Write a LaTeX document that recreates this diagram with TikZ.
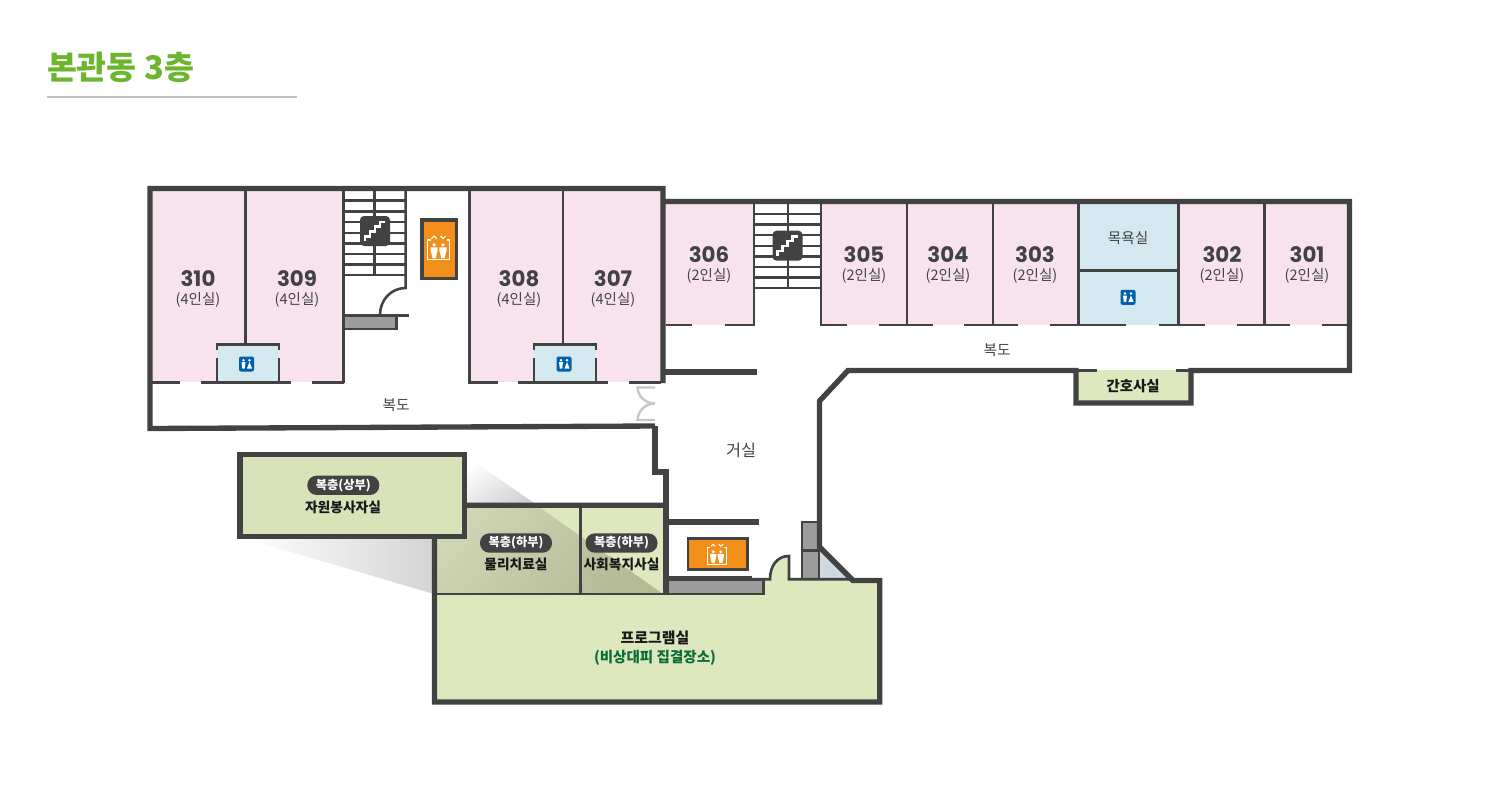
\documentclass[tikz,border=0pt]{standalone}
\usepackage{fontspec}
\setmainfont{Noto Sans CJK KR}
\newfontfamily\numfont{Poppins}
\definecolor{wallc}{HTML}{424242}
\definecolor{pinkc}{HTML}{F8E2EE}
\definecolor{bathc}{HTML}{D3E9EF}
\definecolor{greenc}{HTML}{DDE8BE}
\definecolor{grayc}{HTML}{9C9C9C}
\definecolor{liftc}{HTML}{F28F1B}
\definecolor{wcc}{HTML}{0060AA}
\definecolor{titlec}{HTML}{6CB52D}
\definecolor{voidc}{HTML}{CFD8DD}
\definecolor{shadec}{HTML}{B4B996}
\definecolor{shadetop}{HTML}{CFD6B4}
\definecolor{assemblyc}{HTML}{0B6B3A}
\tikzset{
  pics/wcicon/.style = {code = {
    \fill[wcc, rounded corners = 1.5] (-7.5,-7.5) rectangle (7.5,7.5);
    \fill[white] (-3,-3.8) circle (1.3) (3,-3.8) circle (1.3);
    \fill[white] (-5,-1.8) -- (-1,-1.8) -- (-1.8,4.5) -- (-4.2,4.5) -- cycle;
    \fill[white] (3,-2) -- (5.6,4.5) -- (.4,4.5) -- cycle;
  }},
  pics/stairicon/.style = {code = {
    \fill[wallc, rounded corners = 3] (-15,-15) rectangle (15,15);
    \draw[white, line width = 1.9pt] (-10,10) -- (-10,5.5) -- (-5,5.5) -- (-5,.5) -- (0,.5) -- (0,-4.5) -- (5,-4.5) -- (5,-9) -- (10,-9);
  }},
  pics/lifticon/.style = {code = {
    \draw[white, line width = .8pt] (-8,-8) -- (-11,-8) -- (-11,11.5) -- (11,11.5) -- (11,-8) -- (8,-8);
    \draw[white, line width = .8pt] (-7,-9.5) -- (-4.5,-12) -- (-2,-9.5) (2,-12) -- (4.5,-9.5) -- (7,-12);
    \foreach \sx in {-4.4,4.4} {
      \fill[white] (\sx,-3.2) circle (1.9);
      \fill[white] (\sx-3.6,-.6) -- (\sx+3.6,-.6) -- (\sx+3.6,2) -- (\sx+1.6,10) -- (\sx-1.6,10) -- (\sx-3.6,2) -- cycle;
    }
  }}
}
\begin{document}
\begin{tikzpicture}[
    x = .75pt, y = -.75pt,
    every node/.style = {inner sep = 0pt, align = center},
    wall/.style = {draw = wallc, line width = 4pt, miter limit = 10},
    thinwall/.style = {draw = wallc, line width = 2pt},
    tread/.style = {draw = wallc, line width = 1.9pt},
    roomno/.style = {text = wallc, font = \fontsize{16pt}{16pt}\numfont\bfseries},
    capt/.style = {text = wallc, font = \fontsize{10.9pt}{11pt}\selectfont},
    plain/.style = {text = wallc, font = \fontsize{11pt}{11pt}\selectfont},
    dark/.style = {text = black!90, font = \fontsize{10.3pt}{11pt}\selectfont\bfseries},
    pill/.style = {fill = wallc, text = white, rounded corners = 7pt, minimum height = 14.5pt,
      minimum width = 54pt, font = \fontsize{9.2pt}{10pt}\selectfont\bfseries}
  ]
  \useasboundingbox (0,0) rectangle (1500,800);

  % title
  \node[text = titlec, font = \fontsize{24.4pt}{24pt}\selectfont\bfseries] (title) at (120.5,67) {본관동 3층};
  \draw[black!25, line width = .8pt] (47,97) -- (297,97);

  % room fills
  \fill[pinkc] (150,188) rectangle (343.7,382);
  \fill[pinkc] (469.5,188) rectangle (663,382);
  \fill[pinkc] (663,201) rectangle (754,325);
  \fill[pinkc] (821,201) rectangle (1078.5,325);
  \fill[pinkc] (1178.7,201) rectangle (1349,325);
  \fill[bathc] (1078.5,201) rectangle (1178.7,325);
  \fill[bathc] (217,344) rectangle (279,382);
  \fill[bathc] (534,344) rectangle (596,382);
  \fill[greenc] (434,505) rectangle (666,594);
  \fill[greenc] (1076,370) rectangle (1191,403);
  \fill[greenc] (434,594) -- (763,594) -- (763,579) -- (770,579) .. controls (770,566) and (777,556) .. (789,556) -- (789,579) -- (879,579) -- (879,702) -- (434,702) -- cycle;
  \fill[voidc] (819.5,548) -- (847,579) -- (819.5,579) -- cycle;

  % shadow of the upper floor
  \begin{scope}
    \clip (466,456) -- (537,505) -- (466,505) -- cycle;
    \shade[top color = white, bottom color = black!18, shading angle = 35] (466,456) rectangle (537,505);
  \end{scope}
  \begin{scope}
    \clip (240,537) -- (434,594) -- (434,537) -- cycle;
    \shade[left color = white, right color = black!17] (240,537) rectangle (434,594);
  \end{scope}
  \begin{scope}
    \clip (466,456) -- (666,596) -- (434,596) -- (400,480) -- cycle;
    \shade[top color = shadetop, bottom color = shadec, shading angle = 50] (434,505) rectangle (666,594);
  \end{scope}

  % stairs
  \foreach \sy in {200.7,211.4,222.1,232.8,243.5,254.2,264.6,275} {
    \draw[tread] (344,\sy) -- (405.7,\sy);
  }
  \foreach \sy in {214,224.6,235.2,245.8,256.4,267,277.5,288} {
    \draw[tread] (755,\sy) -- (821,\sy);
  }
  \draw[tread] (374.3,190) -- (374.3,275);
  \draw[tread] (405.7,190) -- (405.7,288) .. controls (391,288) and (380,300) .. (380,315);
  \draw[tread] (788,203) -- (788,288);
  \pic at (375,231) {stairicon};
  \pic at (787.5,245.7) {stairicon};

  % gray shafts
  \draw[thinwall, fill = grayc] (344,315.5) rectangle (396.5,329);
  \draw[thinwall] (396.5,315.5) -- (409,315.5);
  \draw[thinwall, fill = grayc] (667,580) rectangle (763.3,594);
  \draw[thinwall, fill = grayc] (802,522) rectangle (819,550.5);
  \draw[thinwall, fill = grayc] (802,550.5) rectangle (819,579);

  % lifts
  \draw[draw = wallc, line width = 2.4pt, fill = liftc] (422,220) rectangle (456.7,278.5);
  \pic at (438.5,248) {lifticon};
  \draw[draw = wallc, line width = 2.2pt, fill = liftc] (688,538.3) rectangle (747.5,569.5);
  \pic[scale = .86] at (717,554.5) {lifticon};

  % inner walls, left wing
  \draw[thinwall] (245.3,190) -- (245.3,344);
  \draw[thinwall] (343.7,190) -- (343.7,382.5) (152,382.5) -- (180,382.5) (201,382.5) -- (290.7,382.5) (311.7,382.5) -- (343.7,382.5);
  \draw[thinwall] (217,358) -- (217,382.5) (279,358) -- (279,382.5) (217,350) -- (217,344.5) -- (279,344.5) -- (279,350);
  \draw[thinwall] (469.5,190) -- (469.5,382.5) -- (497.7,382.5) (518.3,382.5) -- (608,382.5) (629,382.5) -- (661,382.5);
  \draw[thinwall] (563,190) -- (563,344);
  \draw[thinwall] (534,358) -- (534,382.5) (596,358) -- (596,382.5) (534,350) -- (534,344.5) -- (596,344.5) -- (596,350);

  % inner walls, right wing
  \draw[thinwall] (754,203) -- (754,325) (821,203) -- (821,325) (907,203) -- (907,325) (993,203) -- (993,325) (1078.5,203) -- (1078.5,325) (1178.7,203) -- (1178.7,325) (1264.5,203) -- (1264.5,325);
  \draw[thinwall] (1078.5,270.7) -- (1178.7,270.7);
  \draw[thinwall] (666,325) -- (692,325) (725,325) -- (755,325) (820,325) -- (847,325) (878.7,325) -- (932.7,325) (964,325) -- (1018.3,325) (1050,325) -- (1126,325) (1159.3,325) -- (1205,325) (1236.7,325) -- (1290.3,325) (1322,325) -- (1347,325);
  \draw[thinwall] (1076,370.5) -- (1096.7,370.5) (1175.7,370.5) -- (1191,370.5);

  % lower block inner walls
  \draw[thinwall] (580.7,505) -- (580.7,594) (434,594) -- (763.3,594);
  \draw[thinwall] (751.7,579.3) -- (770,579.3) .. controls (770,566) and (777,556) .. (789,556) -- (789,579.3) -- (853,579.3);
  \draw[wall] (666,578.5) -- (751.7,578.5);

  % outer walls
  \draw[wall] (655,426) -- (150,428.5) -- (150,188.5) -- (663,188.5) -- (663,383);
  \draw[wall] (655,426) -- (655,472) -- (666,472) -- (666,594);
  \draw[wall] (663,201.5) -- (1349.5,201.5) -- (1349.5,370.5) -- (1191,370.5) -- (1191,403) -- (1076,403) -- (1076,370.5) -- (848,370.5) -- (819.5,401) -- (819.5,547) -- (853,580.5) -- (879.7,580.5) -- (879.7,702) -- (434.5,702) -- (434.5,505.3) -- (666,505.3);
  \draw[wall] (663,372) -- (756.5,372);
  \draw[wall] (666,522) -- (759,522);

  % double door
  \draw[black!22, line width = 1.8pt] (655,387.5) -- (637.5,387.5) .. controls (638,396) and (645,403.5) .. (655,403.5) .. controls (645,403.5) and (638,411) .. (637.5,420) -- (655,420);

  % upper floor box
  \draw[wall, fill = greenc!98!black] (240,454.5) rectangle (464.5,536.7);

  % wc icons
  \pic at (246.5,364) {wcicon};
  \pic at (564,364) {wcicon};
  \pic at (1128,297.3) {wcicon};

  % room labels
  \node[roomno] (r310) at (198,279) {310};
  \node[roomno] (r309) at (297,279) {309};
  \node[roomno] (r308) at (519,279) {308};
  \node[roomno] (r307) at (613,279) {307};
  \node[roomno] (r306) at (709,255) {306};
  \node[roomno] (r305) at (864,255) {305};
  \node[roomno] (r304) at (948,255) {304};
  \node[roomno] (r303) at (1035,255) {303};
  \node[roomno] (r302) at (1222,255) {302};
  \node[roomno] (r301) at (1307,255) {301};
  \foreach \nm/\ppl in {r310/4,r309/4,r308/4,r307/4,r306/2,r305/2,r304/2,r303/2,r302/2,r301/2} {
    \path (\nm.center) ++(0,21) node[capt] (c\nm) {(\ppl 인실)};
  }

  \node[plain] (hall1) at (396,405.5) {복도};
  \node[plain] (hall2) at (997,350) {복도};
  \node[plain, font = \fontsize{12.2pt}{12pt}\selectfont] (lounge) at (741,450) {거실};
  \node[plain] (bath) at (1128,238) {목욕실};
  \node[dark, font = \fontsize{10.8pt}{11pt}\selectfont\bfseries] (nurse) at (1133,386) {간호사실};

  \node[pill] (pillup) at (343.3,485.3) {복층(상부)};
  \node[dark] (volunteer) at (343,507) {자원봉사자실};
  \node[pill] (pillpt) at (516,543) {복층(하부)};
  \node[dark] (physio) at (516,564) {물리치료실};
  \node[pill] (pillsw) at (621.5,543) {복층(하부)};
  \node[dark] (welfare) at (621.5,564) {사회복지사실};
  \node[dark, font = \fontsize{11.2pt}{11pt}\selectfont\bfseries] (program) at (655,638) {프로그램실};
  \node[dark, text = assemblyc, font = \fontsize{10.9pt}{11pt}\selectfont\bfseries] (assembly) at (655,658) {(비상대피 집결장소)};
\end{tikzpicture}
\end{document}
